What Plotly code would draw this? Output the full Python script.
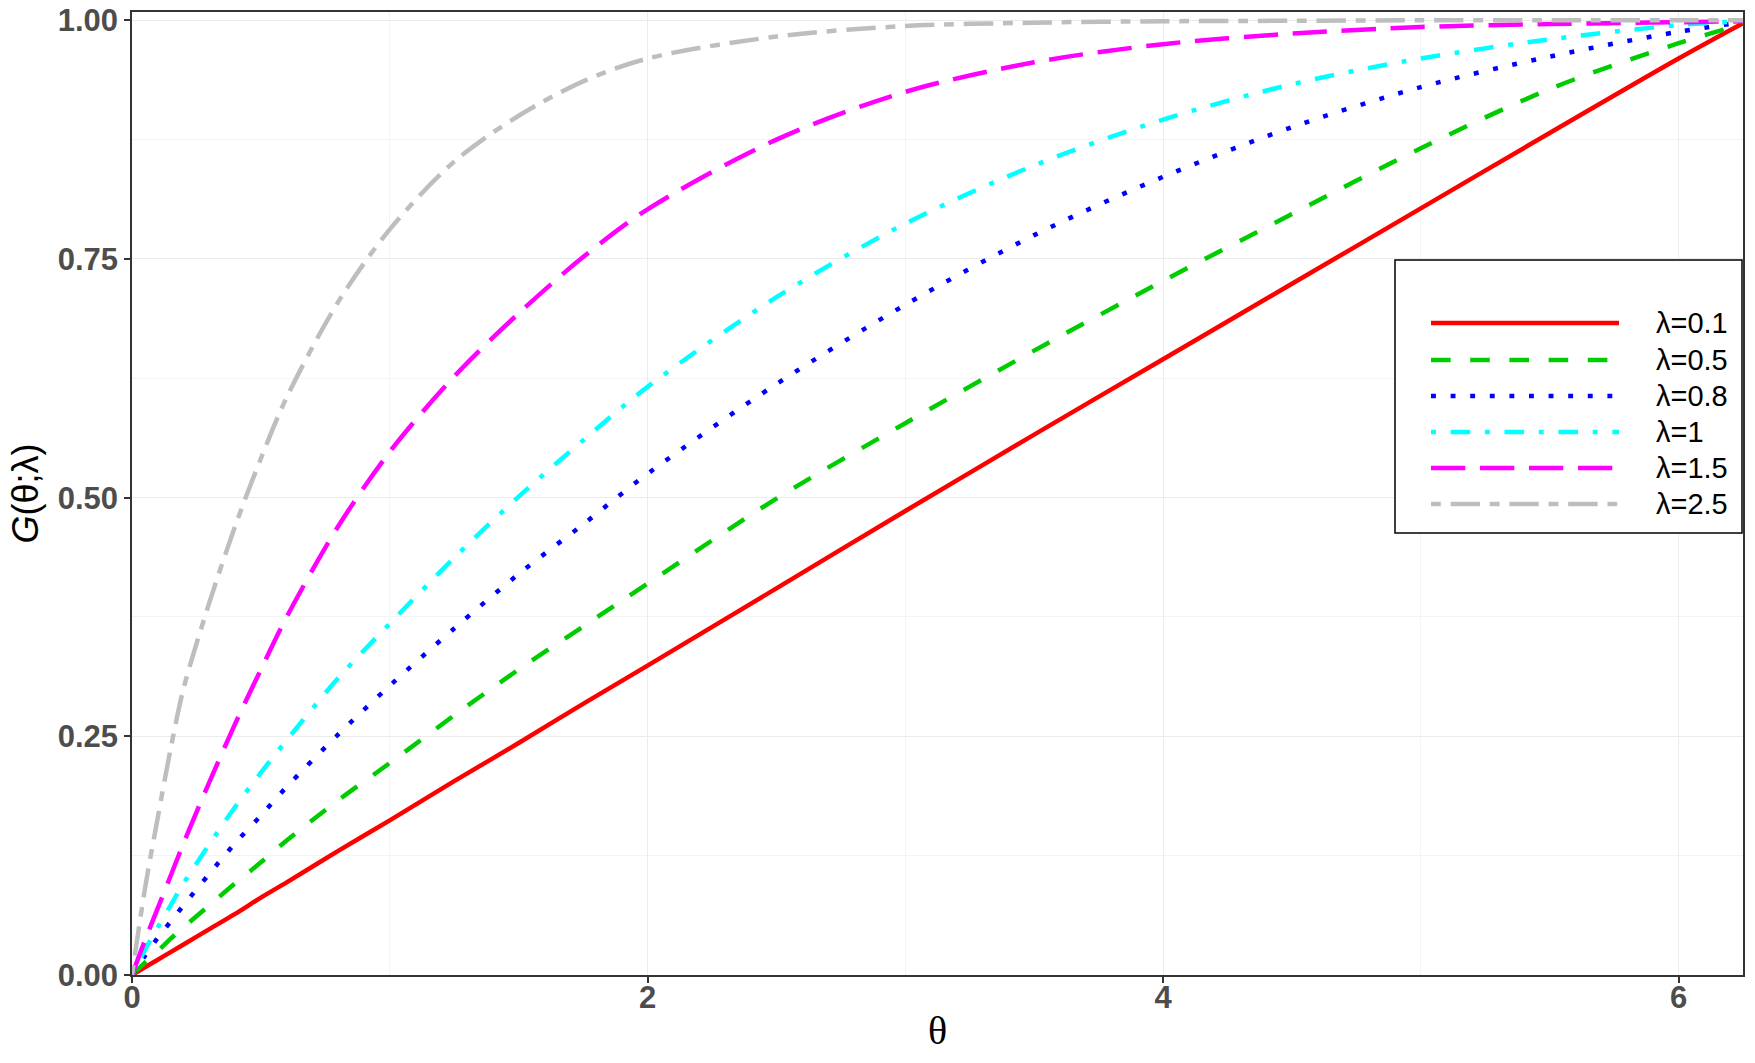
import plotly.graph_objects as go

# ---- data ----
theta = [0, 0.05, 0.1, 0.15, 0.2, 0.3, 0.4, 0.5, 0.6, 0.8, 1.0, 1.25, 1.5, 1.75,
         2.0, 2.5, 3.0, 3.5, 4.0, 4.5, 5.0, 5.5, 6.0, 6.25]

g_01 = [0, 0.008, 0.016, 0.024, 0.032, 0.048, 0.064, 0.081, 0.097, 0.130, 0.162, 0.203,
        0.243, 0.284, 0.324, 0.405, 0.486, 0.566, 0.645, 0.724, 0.803, 0.882, 0.960, 0.997]
g_05 = [0, 0.013, 0.025, 0.038, 0.050, 0.073, 0.096, 0.118, 0.141, 0.183, 0.222, 0.272,
        0.320, 0.365, 0.410, 0.499, 0.578, 0.654, 0.727, 0.797, 0.866, 0.928, 0.976, 0.996]
g_08 = [0, 0.020, 0.039, 0.056, 0.073, 0.106, 0.138, 0.167, 0.197, 0.252, 0.303, 0.363,
        0.420, 0.472, 0.525, 0.619, 0.702, 0.775, 0.836, 0.888, 0.930, 0.962, 0.988, 0.998]
g_1 = [0, 0.026, 0.050, 0.073, 0.096, 0.137, 0.176, 0.212, 0.246, 0.311, 0.368, 0.437,
       0.501, 0.560, 0.616, 0.710, 0.787, 0.848, 0.896, 0.933, 0.960, 0.980, 0.995, 0.999]
g_15 = [0, 0.036, 0.070, 0.104, 0.138, 0.202, 0.263, 0.320, 0.375, 0.470, 0.548, 0.627,
        0.693, 0.752, 0.802, 0.875, 0.925, 0.956, 0.975, 0.986, 0.993, 0.996, 0.998, 0.999]
g_25 = [0, 0.090, 0.165, 0.237, 0.300, 0.390, 0.470, 0.541, 0.605, 0.705, 0.781, 0.852,
        0.900, 0.936, 0.960, 0.983, 0.994, 0.9975, 0.999, 0.9995, 1.0, 1.0, 1.0, 1.0]

series_names = ["λ=0.1", "λ=0.5", "λ=0.8", "λ=1", "λ=1.5", "λ=2.5"]
series_values = [g_01, g_05, g_08, g_1, g_15, g_25]

y_ticks = [0, 0.25, 0.5, 0.75, 1.0]
y_tick_labels = ["0.00", "0.25", "0.50", "0.75", "1.00"]
x_ticks = [0, 2, 4, 6]
x_tick_labels = ["0", "2", "4", "6"]

# ---- styles ----
colors = ["#FF0000", "#00CD00", "#0000FF", "#00FFFF", "#FF00FF", "#BEBEBE"]
u = 4.9
dashes = [
    "solid",
    f"{4*u}px,{4*u}px",
    f"{1*u}px,{3*u}px",
    f"{1*u}px,{3*u}px,{4*u}px,{3*u}px",
    f"{7*u}px,{3*u}px",
    f"{2*u}px,{2*u}px,{6*u}px,{2*u}px",
]
LW = 4.5

W, H = 1755, 1063
ML, MR, MT, MB = 132, 12, 12, 88
PW, PH = W - ML - MR, H - MT - MB


def px_x(p):
    return (p - ML) / PW


def px_y(p):
    return (H - MB - p) / PH


fig = go.Figure()
for name, vals, col, d in zip(series_names, series_values, colors, dashes):
    fig.add_trace(go.Scatter(
        x=theta, y=vals, mode="lines", name=name,
        line=dict(color=col, width=LW, dash=d, shape="spline", smoothing=0.9),
        showlegend=False,
    ))

# ---- custom legend (long line samples like the reference) ----
shapes = [dict(type="rect", xref="paper", yref="paper",
               x0=px_x(1395), x1=px_x(1742), y0=px_y(533), y1=px_y(260),
               line=dict(color="black", width=1.5), fillcolor="white", layer="above")]
annotations = []
row_y = [323, 360, 396, 432, 468, 504]
for name, col, d, ry in zip(series_names, colors, dashes, row_y):
    shapes.append(dict(type="line", xref="paper", yref="paper",
                       x0=px_x(1431), x1=px_x(1619), y0=px_y(ry), y1=px_y(ry),
                       line=dict(color=col, width=LW, dash=d), layer="above"))
    annotations.append(dict(xref="paper", yref="paper", x=px_x(1654), y=px_y(ry),
                            text=name, showarrow=False, xanchor="left", yanchor="middle",
                            font=dict(family="Liberation Sans, Arial", size=29, color="black")))

tick_font = dict(family="Liberation Sans, Arial", size=31, color="#4D4D4D", weight="bold")

fig.update_layout(
    width=W, height=H,
    margin=dict(l=ML, r=MR, t=MT, b=MB, pad=0, autoexpand=False),
    paper_bgcolor="white", plot_bgcolor="white",
    shapes=shapes, annotations=annotations,
    showlegend=False,
    xaxis=dict(
        range=[0, 6.25], tickvals=x_ticks, ticktext=x_tick_labels,
        automargin=False, ticklabelstandoff=-12,
        showline=True, linecolor="#333333", linewidth=1.5, mirror=True,
        ticks="outside", ticklen=6, tickwidth=1.5, tickcolor="#333333",
        tickfont=tick_font, showgrid=True, gridcolor="#EBEBEB", gridwidth=1.4,
        minor=dict(tickvals=[1, 3, 5], showgrid=True, gridcolor="#F4F4F4", gridwidth=1),
        zeroline=False,
        title=dict(text="θ", font=dict(family="Liberation Serif, Times New Roman", size=40, color="black"),
                   standoff=2),
    ),
    yaxis=dict(
        range=[0, 1.0087], tickvals=y_ticks, ticktext=y_tick_labels,
        automargin=False,
        showline=True, linecolor="#333333", linewidth=1.5, mirror=True,
        ticks="outside", ticklen=6, tickwidth=1.5, tickcolor="#333333",
        tickfont=tick_font, showgrid=True, gridcolor="#EBEBEB", gridwidth=1.4,
        minor=dict(tickvals=[0.125, 0.375, 0.625, 0.875], showgrid=True, gridcolor="#F4F4F4", gridwidth=1),
        zeroline=False,
        title=dict(text="<i>G</i>(θ;λ)", font=dict(family="Liberation Sans, Arial", size=36, color="black"),
                   standoff=8),
    ),
)

fig.write_html("out.html")
